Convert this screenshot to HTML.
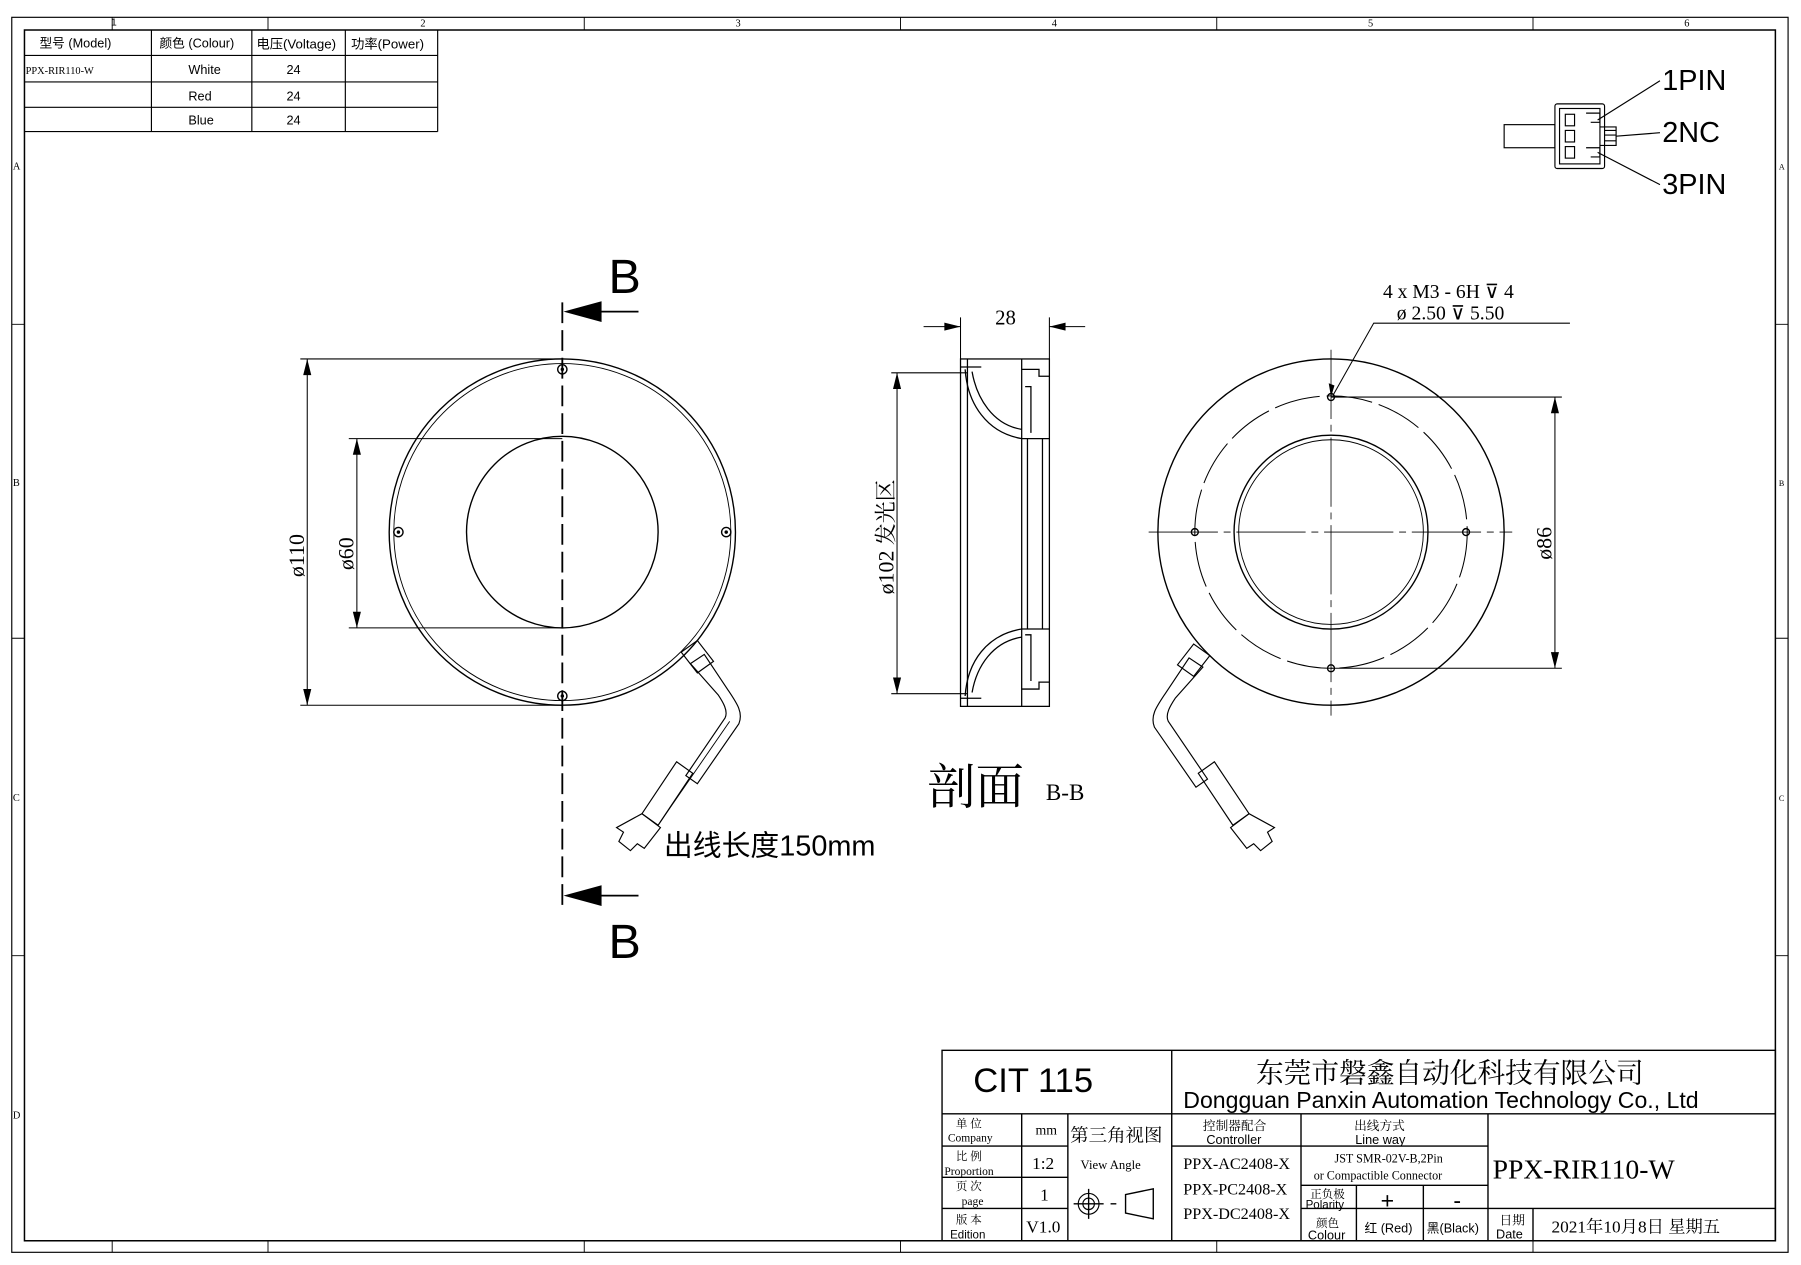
<!DOCTYPE html>
<html><head><meta charset="utf-8"><style>
html,body{margin:0;padding:0;background:#fff}
svg{display:block}
text{font-family:"Liberation Serif","Noto Serif CJK SC","Noto Sans CJK SC",serif;fill:#000}
.s{font-family:"Liberation Sans","Noto Sans CJK SC",sans-serif}
</style></head><body>
<svg width="1801" height="1265" viewBox="0 0 1560 1096" xmlns="http://www.w3.org/2000/svg">
<g fill="none" stroke="#000">
<rect x="10" y="15" width="1539" height="1070" stroke-width="1"/>
<rect x="21" y="26" width="1517" height="1049" stroke-width="1.3"/>
<path d="M97,15V26M232,15V26M506,15V26M780,15V26M1054,15V26M1328,15V26M97,1075V1085M232,1075V1085M506,1075V1085M780,1075V1085M1054,1075V1085M1328,1075V1085M10,281H21M10,553H21M10,828H21M1538,281H1549M1538,553H1549M1538,828H1549" stroke-width="0.8"/>
<path d="M21,48H379M21,71H379M21,93H379M21,114H379M131,26V114M218,26V114M299,26V114M379,26V114" stroke-width="1"/>
</g>
<g font-size="9" class="s">
<text x="96" y="22" class="s">1</text><text x="364" y="23">2</text><text x="637" y="23">3</text><text x="911" y="23">4</text><text x="1185" y="23">5</text><text x="1459" y="23">6</text>
<text x="11" y="147">A</text><text x="11" y="421">B</text><text x="11" y="694">C</text><text x="11" y="969">D</text>
<text x="1541" y="147" font-size="7">A</text><text x="1541" y="421" font-size="7">B</text><text x="1541" y="694" font-size="7">C</text>
</g>
<g font-size="11" class="s">
<text x="34" y="41" class="s">型号 (Model)</text><text x="138" y="41" class="s">颜色 (Colour)</text><text x="222" y="42" class="s" font-size="11.5">电压(Voltage)</text><text x="304" y="42" class="s" font-size="11.5">功率(Power)</text>
<text x="22" y="64" font-size="9">PPX-RIR110-W</text><text x="163" y="64" class="s">White</text><text x="248" y="64" class="s">24</text>
<text x="163" y="87" class="s">Red</text><text x="248" y="87" class="s">24</text>
<text x="163" y="108" class="s">Blue</text><text x="248" y="108" class="s">24</text>
</g>
<g fill="none" stroke="#000" stroke-width="1">
<rect x="1303" y="108" width="44" height="20"/>
<rect x="1347" y="90" width="43" height="56" rx="2"/>
<rect x="1351" y="94" width="35" height="48"/>
<rect x="1356" y="99" width="8" height="10"/><rect x="1356" y="113" width="8" height="10"/><rect x="1356" y="127" width="8" height="10"/>
<path d="M1374,98h12v8h-8M1374,128h12v8h-8M1386,110h14v16h-14M1390,113h10M1390,117h10M1390,122h10"/>
<path d="M1384,104L1438,70M1400,118L1438,115M1384,132L1438,160"/>
</g>
<g class="s" font-size="25"><text x="1440" y="78" class="s">1PIN</text><text x="1440" y="123" class="s">2NC</text><text x="1440" y="168" class="s">3PIN</text></g>
<g fill="none" stroke="#000" stroke-width="1.2">
<circle cx="487" cy="461" r="150"/>
<circle cx="487" cy="461" r="146" stroke-width="0.8"/>
<circle cx="487" cy="461" r="83"/>
<circle cx="487" cy="320" r="4"/><circle cx="487" cy="603" r="4"/><circle cx="345" cy="461" r="4"/><circle cx="629" cy="461" r="4"/>
<path d="M487,262V790" stroke-dasharray="18,6" stroke-width="1.6"/>
<path d="M260,311H487M260,611H487M302,380H487M302,544H487" stroke-width="0.9"/>
<path d="M266,311V611M309,380V544" stroke-width="0.9"/>
<path d="M553,270H505M553,776H505" stroke-width="1.5"/>
<path d="M598,575l12,-8 20,30 c8,12 14,20 10,30 l-36,52 -10,-7 34,-50 c3,-6 -2,-14 -6,-20z" stroke-width="1"/>
<path d="M590,565l14,-10 14,18 -14,10z" stroke-width="1"/>
<path d="M586,660l14,10 -30,45 -14,-10z" stroke-width="1"/>
<path d="M556,705l16,12 -14,18 -6,-4 -6,6 -10,-8 4,-8 -6,-4z" stroke-width="1"/>
<path d="M632,625L572,712" stroke-width="0.8"/>
</g>
<g fill="#000">
<circle cx="487" cy="320" r="1.5"/><circle cx="487" cy="603" r="1.5"/><circle cx="345" cy="461" r="1.5"/><circle cx="629" cy="461" r="1.5"/>
<path d="M266,311l-3.5,14h7zM266,611l-3.5,-14h7zM309,380l-3.5,14h7zM309,544l-3.5,-14h7z"/>
<path d="M488,270l33,-9v18zM488,776l33,-9v18z"/>
</g>
<text x="527" y="254" font-size="42" class="s">B</text>
<text x="527" y="830" font-size="42" class="s">B</text>
<text x="263" y="500" font-size="19" transform="rotate(-90 263 500)">ø110</text>
<text x="306" y="494" font-size="19" transform="rotate(-90 306 494)">ø60</text>
<text x="575" y="741" font-size="25" class="s">出线长度150mm</text>
<g fill="none" stroke="#000" stroke-width="1.1">
<rect x="832" y="311" width="77" height="301"/>
<path d="M838,311V612M885,311V612M903,380V545M890,380V545M885,380H909M885,545H909"/>
<path d="M836,320C838,350 855,375 885,380M836,603C838,573 855,550 885,545M842,322C846,345 860,368 885,372M842,600C846,577 860,556 885,552"/>
<path d="M832,318H850M832,605H850M885,320h15v6h9M885,597h15v-6h9M888,335h5v40M888,550h5v40"/>
<path d="M800,283H832M940,283H909M832,275V311M909,275V311" stroke-width="0.9"/>
<path d="M772,323H838M772,601H838M777,323V601" stroke-width="0.9"/>
</g>
<g fill="#000">
<path d="M832,283l-14,-3.5v7zM909,283l14,-3.5v7zM777,323l-3.5,14h7zM777,601l-3.5,-14h7z"/>
<path d="M1347,344l-3.5,14h7zM1347,579l-3.5,-14h7zM1153,344l-2,-12 5,2z"/>
</g>
<text x="862" y="281" font-size="18">28</text>
<text x="774" y="515" font-size="19" transform="rotate(-90 774 515)">ø102 发光区</text>
<text x="803" y="696" font-size="42">剖面</text>
<text x="906" y="693" font-size="20">B-B</text>
<g fill="none" stroke="#000" stroke-width="1.2">
<circle cx="1153" cy="461" r="150"/>
<circle cx="1153" cy="461" r="118" stroke-dasharray="40,6" stroke-width="0.9"/>
<circle cx="1153" cy="461" r="84"/>
<circle cx="1153" cy="461" r="80" stroke-width="0.8"/>
<path d="M995,461H1310M1153,303V620" stroke-dasharray="60,5,6,5" stroke-width="0.7"/>
<circle cx="1153" cy="344" r="3"/><circle cx="1153" cy="579" r="3"/><circle cx="1035" cy="461" r="3"/><circle cx="1270" cy="461" r="3"/>
<path d="M1153,344H1353M1153,579H1353M1347,344V579" stroke-width="0.9"/>
<path d="M1360,280H1190L1155,342" stroke-width="0.9"/>
<path d="M1042,578l-12,-8 -20,30 c-8,12 -14,20 -10,30 l36,52 10,-7 -34,-50 c-3,-6 2,-14 6,-20z" stroke-width="1"/>
<path d="M1048,568l-14,-10 -14,18 14,10z" stroke-width="1"/>
<path d="M1052,660l-14,10 30,45 14,-10z" stroke-width="1"/>
<path d="M1082,705l-16,12 14,18 6,-4 6,6 10,-8 -4,-8 6,-4z" stroke-width="1"/>
</g>
<text x="1198" y="258" font-size="17">4 x  M3 - 6H ⊽ 4</text>
<text x="1210" y="277" font-size="17">ø 2.50 ⊽ 5.50</text>
<text x="1344" y="485" font-size="19" transform="rotate(-90 1344 485)">ø86</text>
<g fill="none" stroke="#000" stroke-width="1.2">
<rect x="816" y="910" width="722" height="165"/>
<path d="M816,965H1538M1015,910V1075M885,965V1075M925,965V1075M816,993H925M816,1020H925M816,1047H925M1127,965V1075M1289,965V1075M1015,993H1289M1127,1027H1289M1127,1047H1289M1175,1027V1075M1233,1027V1075M1289,1047H1538M1328,1047V1075"/>
<circle cx="943" cy="1043" r="9" stroke-width="1"/><circle cx="943" cy="1043" r="5" stroke-width="1"/>
<path d="M930,1043H956M943,1030V1056M962,1043h5M975,1035v16l24,5v-26z"/>
</g>
<text x="843" y="946" font-size="30" style="font-family:'Liberation Sans Narrow','Liberation Sans',sans-serif">CIT 115</text>
<text x="1088" y="938" font-size="24">东莞市磐鑫自动化科技有限公司</text>
<text x="1025" y="960" font-size="20" class="s">Dongguan Panxin Automation Technology Co., Ltd</text>
<g font-size="10">
<text x="828" y="977">单 位</text><text x="821" y="989">Company</text>
<text x="828" y="1005">比 例</text><text x="818" y="1018">Proportion</text>
<text x="828" y="1031">页 次</text><text x="833" y="1044">page</text>
<text x="828" y="1060">版 本</text><text x="823" y="1073" class="s">Edition</text>
</g>
<text x="897" y="983" font-size="12">mm</text>
<text x="894" y="1013" font-size="15">1:2</text>
<text x="901" y="1040" font-size="15">1</text>
<text x="889" y="1068" font-size="15">V1.0</text>
<text x="927" y="989" font-size="16">第三角视图</text>
<text x="936" y="1013" font-size="11">View Angle</text>
<text x="1042" y="979" font-size="11">控制器配合</text><text x="1045" y="991" font-size="11" class="s">Controller</text>
<text x="1173" y="979" font-size="11">出线方式</text><text x="1174" y="991" font-size="11" class="s">Line way</text>
<text x="1025" y="1013" font-size="14">PPX-AC2408-X</text>
<text x="1025" y="1035" font-size="14">PPX-PC2408-X</text>
<text x="1025" y="1056" font-size="14">PPX-DC2408-X</text>
<text x="1156" y="1007" font-size="10.5">JST SMR-02V-B,2Pin</text>
<text x="1138" y="1022" font-size="10.5">or Compactible Connector</text>
<text x="1135" y="1038" font-size="10">正负极</text><text x="1131" y="1047" font-size="10" class="s">Polarity</text>
<text x="1196" y="1047" font-size="20" class="s">+</text><text x="1259" y="1047" font-size="20" class="s">-</text>
<text x="1140" y="1063" font-size="10">颜色</text><text x="1133" y="1074" font-size="11" class="s">Colour</text>
<text x="1182" y="1068" font-size="11" class="s">红 (Red)</text><text x="1236" y="1068" font-size="11" class="s">黑(Black)</text>
<text x="1293" y="1021" font-size="24">PPX-RIR110-W</text>
<text x="1299" y="1061" font-size="11">日期</text><text x="1296" y="1073" font-size="11" class="s">Date</text>
<text x="1344" y="1068" font-size="15">2021年10月8日 星期五</text>
</svg>
</body></html>
